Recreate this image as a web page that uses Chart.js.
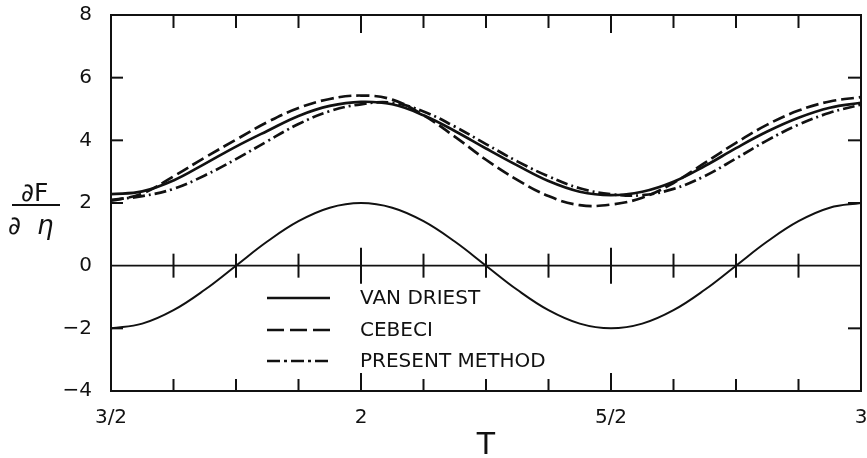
<!DOCTYPE html>
<html>
<head>
<meta charset="utf-8">
<script src="https://cdn.jsdelivr.net/npm/chart.js@4/dist/chart.umd.min.js"></script>
<style>
  html, body { margin: 0; padding: 0; background: #ffffff; }
  #wrap { width: 867px; height: 458px; }
</style>
</head>
<body>
<div id="wrap"><canvas id="c" width="867" height="458"></canvas></div>
<script>
// ---- Data ----
const T = [1.5, 1.5625, 1.625, 1.6875, 1.75, 1.8125, 1.875, 1.9375, 2.0,
           2.0625, 2.125, 2.1875, 2.25, 2.3125, 2.375, 2.4375, 2.5,
           2.5625, 2.625, 2.6875, 2.75, 2.8125, 2.875, 2.9375, 3.0];

const vanDriest = [2.28, 2.37, 2.72, 3.25, 3.80, 4.30, 4.78, 5.10, 5.23,
                   5.15, 4.80, 4.30, 3.74, 3.20, 2.70, 2.36, 2.25,
                   2.36, 2.68, 3.18, 3.75, 4.28, 4.72, 5.04, 5.20];

const cebeci = [2.07, 2.30, 2.85, 3.45, 4.02, 4.58, 5.03, 5.32, 5.43,
                5.30, 4.80, 4.12, 3.38, 2.74, 2.22, 1.93, 1.95,
                2.17, 2.64, 3.28, 3.92, 4.50, 4.95, 5.24, 5.38];

const presentMethod = [2.10, 2.22, 2.45, 2.88, 3.40, 3.97, 4.52, 4.93, 5.15,
                       5.20, 4.92, 4.44, 3.88, 3.33, 2.85, 2.47, 2.28,
                       2.25, 2.45, 2.86, 3.42, 4.00, 4.50, 4.88, 5.14];

const lowerCurve = [-2.00, -1.85, -1.42, -0.77, 0.00, 0.77, 1.42, 1.85, 2.00,
                    1.85, 1.42, 0.77, 0.00, -0.77, -1.42, -1.85, -2.00,
                    -1.85, -1.42, -0.77, 0.00, 0.77, 1.42, 1.85, 2.00];

const seriesNames = ['VAN DRIEST', 'CEBECI', 'PRESENT METHOD'];
const xTickValues = [1.5, 2, 2.5, 3];
const xTickLabels = ['3/2', '2', '5/2', '3'];
const xMinorTicks = [1.625, 1.75, 1.875, 2.125, 2.25, 2.375, 2.625, 2.75, 2.875];
const yTickValues = [-4, -2, 0, 2, 4, 6, 8];
const xTitle = 'T';

// ---- Styling ----
const FONT = "'DejaVu Sans', 'Liberation Sans', Arial, sans-serif";
const INK = '#111111';
const dashes = [[], [13, 5], [12, 4, 2, 4]];
const legendDashes = [[], [17, 6], [13, 4, 3, 4]];

const pts = (vals) => T.map((t, i) => ({ x: t, y: vals[i] }));

const datasets = [vanDriest, cebeci, presentMethod].map((vals, i) => ({
  label: seriesNames[i],
  data: pts(vals),
  borderColor: INK,
  borderWidth: 2.7,
  borderDash: dashes[i],
  pointRadius: 0,
  fill: false,
  tension: 0.4
}));
datasets.push({
  label: '',
  data: pts(lowerCurve),
  borderColor: INK,
  borderWidth: 2,
  pointRadius: 0,
  fill: false,
  tension: 0.4
});

const frameTicks = {
  id: 'frameTicks',
  afterDatasetsDraw(chart) {
    const { ctx, chartArea: a, scales: { x, y } } = chart;
    const seg = (x1, y1, x2, y2) => { ctx.beginPath(); ctx.moveTo(x1, y1); ctx.lineTo(x2, y2); ctx.stroke(); };
    ctx.save();
    ctx.strokeStyle = INK;
    ctx.lineWidth = 2;
    ctx.strokeRect(a.left, a.top, a.right - a.left, a.bottom - a.top);
    const y0 = y.getPixelForValue(0);
    ctx.lineWidth = 1.7;
    seg(a.left, y0, a.right, y0);
    ctx.lineWidth = 2;
    xMinorTicks.forEach(v => {
      const px = x.getPixelForValue(v);
      seg(px, a.top, px, a.top + 13);
      seg(px, a.bottom, px, a.bottom - 12);
      seg(px, y0 - 12, px, y0 + 12);
    });
    xTickValues.forEach(v => {
      if (v <= x.min || v >= x.max) return;
      const px = x.getPixelForValue(v);
      seg(px, a.top, px, a.top + 18);
      seg(px, a.bottom, px, a.bottom - 18);
      seg(px, y0 - 18, px, y0 + 18);
    });
    yTickValues.forEach(v => {
      if (v <= y.min || v >= y.max || v === 0) return;
      const py = y.getPixelForValue(v);
      seg(a.left, py, a.left + 12, py);
      seg(a.right, py, a.right - 13, py);
    });
    ctx.restore();
  }
};

const inlineLegend = {
  id: 'inlineLegend',
  afterDatasetsDraw(chart) {
    const { ctx } = chart;
    const rows = [298, 330, 361];
    ctx.save();
    seriesNames.forEach((name, i) => {
      const ds = chart.data.datasets[i];
      ctx.strokeStyle = ds.borderColor;
      ctx.lineWidth = 2.6;
      ctx.setLineDash(legendDashes[i]);
      ctx.beginPath();
      ctx.moveTo(267, rows[i]);
      ctx.lineTo(330, rows[i]);
      ctx.stroke();
      ctx.setLineDash([]);
      ctx.fillStyle = INK;
      ctx.font = '20px ' + FONT;
      ctx.textAlign = 'left';
      ctx.textBaseline = 'middle';
      ctx.fillText(name, 360, rows[i] + 1);
    });
    ctx.restore();
  }
};

const yTitle = {
  id: 'yTitle',
  afterDraw(chart) {
    const { ctx } = chart;
    ctx.save();
    ctx.fillStyle = INK;
    ctx.strokeStyle = INK;
    ctx.textBaseline = 'alphabetic';
    ctx.textAlign = 'left';
    ctx.font = '25px ' + FONT;
    ctx.fillText('\u2202F', 21, 201);
    ctx.lineWidth = 2.2;
    ctx.beginPath(); ctx.moveTo(12, 205); ctx.lineTo(60, 205); ctx.stroke();
    ctx.fillText('\u2202', 8, 234);
    ctx.font = 'italic 26px ' + FONT;
    ctx.fillText('\u03B7', 37, 234);
    ctx.restore();
  }
};

new Chart(document.getElementById('c'), {
  type: 'line',
  data: { datasets },
  options: {
    responsive: false,
    animation: false,
    devicePixelRatio: 1,
    layout: { padding: { top: 15, right: 6, left: 0, bottom: 0 } },
    plugins: { legend: { display: false }, tooltip: { enabled: false } },
    scales: {
      x: {
        type: 'linear',
        min: 1.5, max: 3,
        grid: { display: false },
        border: { display: false },
        afterBuildTicks: (s) => { s.ticks = xTickValues.map(v => ({ value: v })); },
        afterFit: (s) => { s.height = 67; s.paddingLeft = 0; s.paddingRight = 0; },
        ticks: {
          autoSkip: false,
          maxRotation: 0,
          padding: 7,
          color: INK,
          font: { family: FONT, size: 20 },
          callback: (v) => { const i = xTickValues.indexOf(v); return i >= 0 ? xTickLabels[i] : ''; }
        },
        title: {
          display: true,
          text: xTitle,
          color: INK,
          font: { family: FONT, size: 30, lineHeight: 1 },
          padding: { top: 0, bottom: -3 }
        }
      },
      y: {
        min: -4, max: 8,
        grid: { display: false },
        border: { display: false },
        afterBuildTicks: (s) => { s.ticks = yTickValues.map(v => ({ value: v })); },
        afterFit: (s) => { s.width = 111; s.paddingTop = 0; s.paddingBottom = 0; },
        ticks: {
          padding: 11,
          color: INK,
          font: { family: FONT, size: 20 },
          callback: (v) => String(v).replace('-', '\u2212')
        }
      }
    }
  },
  plugins: [frameTicks, inlineLegend, yTitle]
});
</script>
</body>
</html>
